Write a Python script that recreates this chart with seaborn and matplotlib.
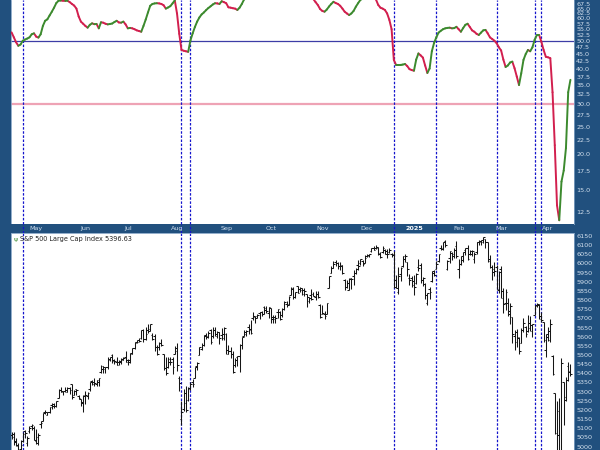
import numpy as np
import pandas as pd
import matplotlib
matplotlib.use("Agg")
import matplotlib.pyplot as plt
import seaborn as sns
from matplotlib.ticker import FixedLocator, NullLocator, FixedFormatter

sns.set_theme(style="white")
plt.rcParams['font.family'] = ['DejaVu Sans']

# ---------------- data ----------------
start_date = "2024-04-16"
end_date = "2025-04-15"
market_holidays = ["2024-05-27", "2024-06-19", "2024-07-04", "2024-09-02", "2024-11-28",
                   "2024-12-25", "2025-01-01", "2025-01-09", "2025-01-20", "2025-02-17"]

opens = [
    5064, 5068, 5032, 5005, 4988, 5028, 5085, 5019, 5085, 5114, 5103,
    5029, 5050, 5123, 5142, 5188, 5172, 5190, 5226, 5233, 5222, 5263, 5310, 5303, 5305, 5299, 5319, 5340, 5281, 5315, 5278, 5259, 5244,
    5283, 5275, 5314, 5358, 5344, 5341, 5353, 5409, 5441, 5424, 5432, 5476, 5499, 5466, 5460, 5460, 5460, 5473, 5488,
    5471, 5461, 5507, 5537, 5572, 5584, 5591, 5636, 5590, 5638, 5644, 5611, 5601, 5543, 5544, 5565, 5506, 5429, 5434, 5477, 5479, 5505,
    5537, 5376, 5151, 5206, 5294, 5252, 5312, 5351, 5376, 5442, 5501, 5531, 5557, 5603, 5603, 5637, 5602, 5639, 5603, 5624, 5608, 5613,
    5612, 5507, 5524, 5507, 5443, 5490, 5496, 5557, 5604, 5615, 5655, 5640, 5702, 5709, 5712, 5727, 5733, 5762, 5755, 5727,
    5757, 5698, 5698, 5737, 5737, 5719, 5751, 5778, 5775, 5829, 5866, 5816, 5875, 5860, 5857, 5832, 5835, 5816, 5827, 5833, 5819, 5833, 5775,
    5723, 5724, 5722, 5864, 5947, 5977, 6009, 6003, 5985, 5989, 5912, 5869, 5856, 5918, 5934, 5948, 5993, 6000, 6014, 6004,
    6040, 6042, 6069, 6085, 6082, 6083, 6057, 6060, 6074, 6068, 6063, 6053, 6048, 5912, 5842, 5941, 5985, 6025, 6006, 5920, 5920,
    5904, 5891, 5982, 5994, 5910, 5890, 5782, 5859, 5905, 5961, 5969, 6015, 6082, 6077, 6121, 5969, 6027, 6058, 6053, 6096,
    5969, 5998, 6021, 6073, 6083, 6049, 6049, 6025, 6060, 6115, 6121, 6118, 6134, 6115, 6026, 5983, 5971, 5981, 5856,
    5968, 5812, 5782, 5786, 5726, 5705, 5603, 5624, 5594, 5563, 5636, 5655, 5633, 5646, 5631, 5718, 5775, 5772, 5696, 5679, 5527,
    5597, 5581, 5492, 5292, 4953, 5194, 4966, 5354, 5256, 5441, 5412,
]
highs = [
    5079, 5077, 5046, 5019, 5038, 5077, 5089, 5057, 5114, 5123, 5110,
    5096, 5073, 5139, 5181, 5201, 5191, 5215, 5240, 5238, 5250, 5312, 5325, 5305, 5325, 5324, 5324, 5342, 5311, 5316, 5282, 5260, 5280,
    5303, 5298, 5354, 5362, 5376, 5361, 5376, 5447, 5442, 5433, 5488, 5490, 5506, 5478, 5490, 5472, 5483, 5491, 5524,
    5479, 5509, 5539, 5571, 5583, 5591, 5635, 5642, 5655, 5670, 5667, 5622, 5614, 5557, 5570, 5586, 5508, 5491, 5488, 5487, 5489, 5551,
    5567, 5383, 5250, 5312, 5331, 5327, 5351, 5371, 5437, 5463, 5546, 5564, 5609, 5620, 5633, 5643, 5652, 5651, 5631, 5628, 5647, 5651,
    5620, 5552, 5546, 5523, 5485, 5497, 5561, 5600, 5636, 5637, 5670, 5689, 5734, 5715, 5725, 5735, 5742, 5767, 5765, 5763,
    5758, 5720, 5718, 5753, 5740, 5758, 5796, 5796, 5822, 5871, 5870, 5846, 5878, 5873, 5866, 5864, 5835, 5817, 5862, 5843, 5847, 5851, 5776,
    5772, 5741, 5784, 5933, 5984, 6012, 6018, 6010, 6008, 5993, 5916, 5909, 5919, 5921, 5963, 5973, 6020, 6025, 6021, 6045,
    6053, 6053, 6087, 6093, 6100, 6088, 6065, 6093, 6079, 6079, 6085, 6058, 6070, 5935, 5982, 5979, 6040, 6049, 6007, 5941, 5929,
    5935, 5949, 6022, 6001, 5927, 5891, 5836, 5871, 5960, 5964, 6012, 6052, 6101, 6119, 6128, 6018, 6070, 6063, 6087, 6121,
    6023, 6042, 6062, 6084, 6101, 6074, 6076, 6063, 6117, 6127, 6130, 6147, 6134, 6115, 6044, 5993, 6010, 5994, 5959,
    5987, 5865, 5861, 5812, 5783, 5706, 5636, 5642, 5598, 5646, 5704, 5660, 5716, 5711, 5670, 5775, 5786, 5777, 5733, 5680, 5617,
    5651, 5695, 5500, 5292, 5246, 5267, 5481, 5354, 5381, 5460, 5450,
]
lows = [
    5039, 5007, 5001, 4953, 4969, 5027, 5048, 5002, 5073, 5089, 5035,
    5013, 5011, 5101, 5142, 5180, 5170, 5182, 5207, 5211, 5218, 5263, 5296, 5283, 5300, 5297, 5286, 5257, 5279, 5280, 5262, 5222, 5191,
    5234, 5257, 5302, 5336, 5331, 5331, 5331, 5402, 5403, 5404, 5421, 5467, 5455, 5452, 5447, 5446, 5452, 5470, 5460,
    5446, 5458, 5507, 5531, 5563, 5570, 5587, 5572, 5584, 5619, 5632, 5584, 5523, 5498, 5529, 5551, 5419, 5391, 5430, 5445, 5395, 5505,
    5410, 5302, 5119, 5194, 5191, 5249, 5306, 5324, 5376, 5419, 5501, 5528, 5550, 5585, 5592, 5560, 5591, 5602, 5591, 5561, 5584, 5581,
    5506, 5503, 5486, 5403, 5435, 5441, 5407, 5535, 5604, 5605, 5614, 5615, 5690, 5674, 5704, 5699, 5714, 5722, 5727, 5704,
    5675, 5675, 5677, 5703, 5691, 5710, 5745, 5764, 5772, 5825, 5807, 5809, 5840, 5846, 5825, 5821, 5762, 5785, 5800, 5822, 5798, 5811, 5703,
    5723, 5697, 5722, 5864, 5947, 5977, 5986, 5969, 5966, 5945, 5854, 5866, 5853, 5861, 5884, 5944, 5964, 5993, 5985, 6004,
    6036, 6033, 6060, 6072, 6078, 6048, 6029, 6056, 6051, 6030, 6059, 6036, 5867, 5866, 5832, 5903, 5982, 6007, 5932, 5880, 5869,
    5830, 5888, 5961, 5891, 5875, 5808, 5774, 5805, 5897, 5934, 5969, 6006, 6075, 6075, 6089, 5962, 6000, 6018, 6027, 6031,
    5923, 5990, 6007, 6044, 6020, 6044, 6043, 6003, 6051, 6103, 6099, 6111, 6084, 6008, 5977, 5909, 5933, 5858, 5837,
    5810, 5732, 5745, 5711, 5667, 5565, 5529, 5546, 5505, 5563, 5628, 5598, 5623, 5632, 5598, 5718, 5764, 5694, 5681, 5572, 5489,
    5574, 5571, 5391, 5069, 4835, 4910, 4949, 5115, 5249, 5359, 5387,
]
closes = [
    5051, 5022, 5011, 4967, 5011, 5071, 5072, 5048, 5100, 5116, 5036,
    5018, 5064, 5128, 5181, 5188, 5188, 5214, 5223, 5221, 5247, 5308, 5297, 5303, 5308, 5321, 5307, 5268, 5305, 5306, 5267, 5235, 5278,
    5283, 5291, 5354, 5353, 5347, 5361, 5375, 5421, 5434, 5432, 5473, 5487, 5473, 5465, 5448, 5469, 5478, 5483, 5460,
    5475, 5509, 5537, 5567, 5573, 5577, 5634, 5585, 5615, 5631, 5667, 5588, 5545, 5505, 5564, 5556, 5427, 5399, 5459, 5464, 5436, 5522,
    5447, 5347, 5186, 5240, 5200, 5319, 5344, 5344, 5434, 5455, 5543, 5554, 5608, 5597, 5621, 5571, 5635, 5617, 5626, 5592, 5592, 5648,
    5529, 5520, 5503, 5408, 5471, 5496, 5554, 5596, 5626, 5633, 5635, 5618, 5714, 5703, 5719, 5733, 5722, 5745, 5738, 5762,
    5709, 5710, 5700, 5751, 5696, 5751, 5792, 5780, 5815, 5860, 5815, 5842, 5841, 5865, 5854, 5851, 5797, 5810, 5808, 5824, 5833, 5814, 5705,
    5729, 5713, 5783, 5929, 5973, 5996, 6001, 5984, 5985, 5949, 5871, 5894, 5917, 5917, 5949, 5969, 5987, 6022, 5999, 6032,
    6047, 6050, 6086, 6075, 6090, 6053, 6035, 6084, 6051, 6051, 6074, 6051, 5872, 5867, 5931, 5974, 6040, 6038, 5971, 5907, 5882,
    5869, 5942, 5975, 5909, 5918, 5827, 5836, 5843, 5950, 5937, 5997, 6049, 6086, 6119, 6101, 6012, 6068, 6039, 6071, 6041,
    5995, 6038, 6061, 6084, 6026, 6066, 6069, 6052, 6115, 6115, 6130, 6144, 6118, 6013, 5983, 5955, 5956, 5862, 5955,
    5850, 5778, 5843, 5739, 5770, 5615, 5572, 5599, 5522, 5639, 5675, 5615, 5675, 5663, 5668, 5768, 5777, 5712, 5693, 5581, 5612,
    5633, 5671, 5397, 5074, 5062, 4983, 5457, 5268, 5363, 5406, 5397,
]

# upper-panel indicator (log scale), one value per trading day
indicator = [
    53.6, 51.5, 49.5, 48.1, 48.6, 50.1, 50.6, 51.0, 51.5, 52.8, 53.2, 51.8, 51.4, 52.8, 56.5, 58.9, 59.6, 61.5, 63.4, 65.5,
    68.0, 69.3, 69.4, 69.3, 69.2, 69.3, 68.5, 67.5, 66.6, 65.0, 61.0, 58.5, 57.5, 56.5, 55.7, 57.0, 57.7, 57.3, 57.4, 55.4,
    58.2, 58.0, 57.5, 57.2, 57.4, 57.6, 58.3, 58.9, 58.1, 58.0, 58.5, 57.2, 55.4, 55.6, 55.4, 55.0, 54.5, 54.2, 53.9, 56.5,
    59.5, 63.0, 66.5, 67.5, 67.8, 67.9, 67.8, 67.5, 66.8, 65.0, 65.6, 66.3, 67.8, 69.5, 62.5, 53.0, 46.5, 46.2, 46.0, 45.8,
    50.2, 53.2, 56.0, 58.5, 60.5, 62.0, 63.0, 64.2, 65.3, 66.2, 67.2, 67.9, 67.8, 67.5, 69.0, 68.5, 67.9, 65.7, 65.5, 65.2,
    65.0, 64.3, 65.5, 67.5, 70.0, 71.5, 72.5, 73.5, 74.0, 73.0, 72.5, 73.5, 74.5, 75.0, 74.0, 72.5, 71.5, 71.0, 72.0, 73.0,
    74.0, 74.5, 75.0, 75.5, 75.0, 74.5, 75.0, 75.5, 75.0, 74.0, 73.5, 74.0, 73.5, 72.5, 71.5, 70.2, 68.5, 66.9, 64.8, 63.8,
    63.4, 64.5, 66.1, 67.5, 68.7, 68.0, 67.5, 66.5, 65.0, 63.4, 62.5, 61.7, 62.5, 63.8, 66.0, 67.9, 69.7, 70.5, 71.5, 72.0,
    72.5, 72.0, 71.0, 70.0, 67.0, 65.5, 65.0, 64.3, 62.5, 59.3, 55.0, 42.9, 41.2, 41.2, 41.2, 41.3, 41.5, 40.8, 39.8, 39.5,
    39.3, 43.0, 45.2, 44.5, 43.7, 41.0, 38.6, 40.0, 46.0, 49.2, 51.5, 53.5, 54.3, 55.0, 55.4, 55.6, 55.7, 55.4, 55.5, 56.1,
    55.0, 53.9, 55.5, 57.0, 57.5, 56.0, 54.5, 53.9, 53.0, 52.5, 53.5, 54.5, 54.7, 53.2, 51.5, 50.8, 50.1, 49.1, 47.5, 46.3,
    43.0, 40.5, 41.0, 42.0, 42.3, 40.1, 37.5, 35.0, 38.5, 42.9, 45.0, 46.5, 46.0, 47.5, 50.5, 52.5, 52.5, 49.7, 46.5, 44.0,
    43.8, 43.5, 33.0, 21.5, 13.2, 11.7, 16.0, 17.5, 21.0, 33.0, 36.5,
]

# dates where the indicator crossed its 50 line (dashed verticals)
signal_dates = ["2024-04-23", "2024-08-05", "2024-08-09", "2024-12-18", "2025-01-17",
                "2025-02-27", "2025-03-24", "2025-03-27"]

month_labels = ["May", "Jun", "Jul", "Aug", "Sep", "Oct", "Nov", "Dec", "2025", "Feb", "Mar", "Apr"]
upper_ticks = [12.5, 15.0, 17.5, 20.0, 22.5, 25.0, 27.5, 30.0, 32.5, 35.0, 37.5, 40.0, 42.5, 45.0,
               47.5, 50.0, 52.5, 55.0, 57.5, 60.0, 62.5, 65.0, 67.5]
lower_ticks = list(range(5000, 6151, 50))
last_value = 5396.63

# ---------------- preparation ----------------
dates = pd.bdate_range(start_date, end_date)
dates = dates[~dates.isin(pd.to_datetime(market_holidays))]
n = len(dates)
assert n == len(opens) == len(highs) == len(lows) == len(closes) == len(indicator)
xs = np.arange(n)
date_idx = {d.strftime("%Y-%m-%d"): i for i, d in enumerate(dates)}

BG = '#21507e'
GREEN = '#3c8a2e'
RED = '#d21f4e'
TXT = '#d3e0ee'

fig = plt.figure(figsize=(6, 4.5), dpi=100, facecolor=BG)
L, R = 11 / 600, 574 / 600
ax_top = fig.add_axes([L, 226 / 450, R - L, 224 / 450])
ax_strip = fig.add_axes([L, 217.5 / 450, R - L, 8.5 / 450])
ax_bot = fig.add_axes([L, 0, R - L, 217.5 / 450])

xlim = (-0.27, 251.6)

# ---- top panel: indicator line coloured by direction ----
rows = []
for i in range(n - 1):
    d = 'up' if indicator[i + 1] >= indicator[i] else 'down'
    rows.append((xs[i], indicator[i], i, d))
    rows.append((xs[i + 1], indicator[i + 1], i, d))
seg_df = pd.DataFrame(rows, columns=['x', 'v', 'seg', 'dir'])

ax_top.set_facecolor('white')
ax_top.axhline(30, color='#eea3b5', lw=1.6, zorder=1)
ax_top.axhline(50, color='#3d3da6', lw=0.9, zorder=1)
sns.lineplot(data=seg_df, x='x', y='v', hue='dir', units='seg', estimator=None,
             palette={'up': GREEN, 'down': RED}, lw=1.4, legend=False, sort=False,
             ax=ax_top, zorder=3)
ax_top.set_yscale('log')
ax_top.set_ylim(11.35, 69.7)
ax_top.yaxis.set_major_locator(FixedLocator(upper_ticks))
ax_top.yaxis.set_major_formatter(FixedFormatter([f"{t:.1f}" for t in upper_ticks]))
ax_top.yaxis.set_minor_locator(NullLocator())

# ---- bottom panel: OHLC bars ----
ax_bot.set_facecolor('white')
bar_kw = dict(color='#151515', lw=0.75, zorder=3)
ax_bot.vlines(xs, lows, highs, **bar_kw)
ax_bot.hlines(opens, xs - 0.75, xs, **bar_kw)
ax_bot.hlines(closes, xs, xs + 0.75, **bar_kw)
ax_bot.set_ylim(4981, 6169)
ax_bot.yaxis.set_major_locator(FixedLocator(lower_ticks))
ax_bot.yaxis.set_major_formatter(FixedFormatter([str(t) for t in lower_ticks]))
ax_bot.text(0.016, 0.970, f"S&P 500 Large Cap Index {last_value:.2f}", transform=ax_bot.transAxes,
            ha='left', va='center', fontsize=4.7, color='#202020', zorder=5)
ax_bot.text(0.004, 0.970, "\u03c8", transform=ax_bot.transAxes, ha='left', va='center',
            fontsize=4.5, color=GREEN, zorder=5)

# ---- date strip ----
ax_strip.set_facecolor(BG)
month_starts = []
prev = None
for i, d in enumerate(dates):
    key = (d.year, d.month)
    if prev is not None and key != prev:
        month_starts.append(i)
    prev = key
for i, lab in zip(month_starts, month_labels):
    ax_strip.text(i, 0.45, lab, ha='center', va='center', fontsize=4.6,
                  color='white' if lab == '2025' else TXT,
                  fontweight='bold' if lab == '2025' else 'normal')
ax_strip.set_ylim(0, 1)
ax_strip.set_yticks([])

for ax in (ax_top, ax_strip, ax_bot):
    ax.set_xlim(*xlim)
    ax.set_xticks([])
    ax.set_xlabel('')
    ax.set_ylabel('')
    for s in ax.spines.values():
        s.set_visible(False)
    for sd in signal_dates:
        ax.axvline(date_idx[sd], color='#1414cc', lw=0.9, ls=(0, (2, 1.3)), zorder=2)

for ax in (ax_top, ax_bot):
    ax.yaxis.tick_right()
    ax.tick_params(axis='y', which='both', length=0, pad=1.5, labelsize=4.6, labelcolor=TXT)
    for s in ('top', 'bottom', 'left', 'right'):
        ax.spines[s].set_visible(True)
        ax.spines[s].set_color('#7f9fc2')
        ax.spines[s].set_linewidth(0.6)
ax_bot.spines['bottom'].set_visible(False)
ax_top.spines['top'].set_visible(False)

fig.savefig("out.png", dpi=100, facecolor=BG)
